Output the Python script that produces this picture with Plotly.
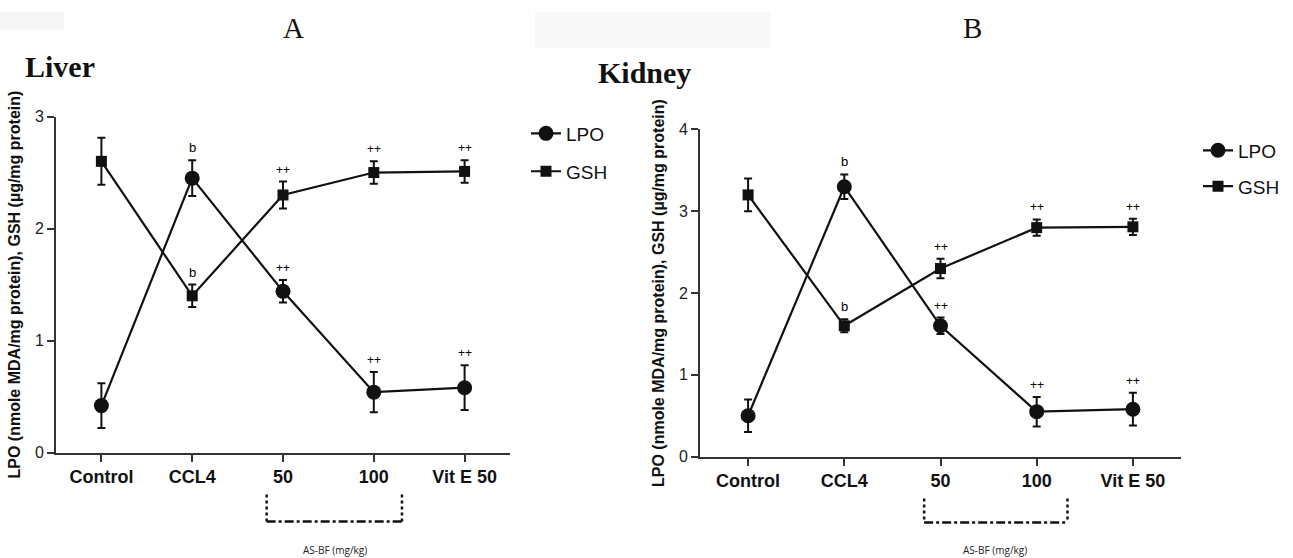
import plotly.graph_objects as go

W, H = 1293, 558

categories = ["Control", "CCL4", "50", "100", "Vit E 50"]

# Panel A: Liver
liver_lpo = [0.42, 2.45, 1.44, 0.54, 0.58]
liver_lpo_err = [0.20, 0.16, 0.10, 0.18, 0.20]
liver_gsh = [2.60, 1.40, 2.30, 2.50, 2.51]
liver_gsh_err = [0.21, 0.10, 0.12, 0.10, 0.10]
liver_lpo_marks = ["", "b", "++", "++", "++"]
liver_gsh_marks = ["", "b", "++", "++", "++"]

# Panel B: Kidney
kidney_lpo = [0.50, 3.30, 1.60, 0.55, 0.58]
kidney_lpo_err = [0.20, 0.15, 0.10, 0.18, 0.20]
kidney_gsh = [3.20, 1.60, 2.30, 2.80, 2.81]
kidney_gsh_err = [0.20, 0.08, 0.12, 0.10, 0.10]
kidney_lpo_marks = ["", "b", "++", "++", "++"]
kidney_gsh_marks = ["", "b", "++", "++", "++"]

y_title = "LPO (nmole MDA/mg protein), GSH (µg/mg protein)"
INK = "#111111"
AX = "#333333"

def px(x):
    return x / W

def py(y):
    # compensate for the observed vertical mapping of the page capture
    t = (y - 6.2) / 0.972
    return 1 - t / H

fig = go.Figure()

def add_series(xa, ya, vals, errs, name, symbol, size, legend, marks):
    xs = list(range(len(categories)))
    fig.add_trace(go.Scatter(
        x=xs, y=vals, mode="lines+markers", name=name,
        xaxis=xa, yaxis=ya, legend=legend,
        line=dict(color=INK, width=2.2),
        marker=dict(symbol=symbol, size=size, color=INK),
        error_y=dict(type="data", array=errs, visible=True,
                     color=INK, thickness=2, width=4),
        cliponaxis=False,
    ))
    for i, m in enumerate(marks):
        if not m:
            continue
        fig.add_annotation(
            x=xs[i], y=vals[i] + errs[i], xref=xa, yref=ya,
            text=m, showarrow=False, yanchor="bottom", yshift=3,
            font=dict(family="Arial, Liberation Sans", size=13 if m == "b" else 12, color="#000000"),
        )

add_series("x", "y", liver_lpo, liver_lpo_err, "LPO", "circle", 15, "legend", liver_lpo_marks)
add_series("x", "y", liver_gsh, liver_gsh_err, "GSH", "square", 11, "legend2", liver_gsh_marks)
add_series("x2", "y2", kidney_lpo, kidney_lpo_err, "LPO", "circle", 15, "legend3", kidney_lpo_marks)
add_series("x2", "y2", kidney_gsh, kidney_gsh_err, "GSH", "square", 11, "legend4", kidney_gsh_marks)

tickfont_x = dict(family="Arial, Liberation Sans", size=18, color=INK, weight="bold")
tickfont_y = dict(family="Arial, Liberation Sans", size=16, color="#222")

def xaxis(domain):
    return dict(
        domain=domain, range=[-0.5, 4.5],
        tickmode="array", tickvals=list(range(len(categories))), ticktext=categories,
        showline=True, linecolor=AX, linewidth=2, ticks="outside", ticklen=7,
        tickwidth=2, tickcolor=AX, showgrid=False, zeroline=False,
        tickfont=tickfont_x, fixedrange=True,
    )

def yaxis(domain, rng, dtick, anchor):
    return dict(
        domain=domain, range=rng, dtick=dtick, anchor=anchor,
        showline=True, linecolor=AX, linewidth=2, ticks="outside", ticklen=7,
        tickwidth=2, tickcolor=AX, showgrid=False, zeroline=False,
        tickfont=tickfont_y,
        title=dict(text=y_title, standoff=10,
                   font=dict(family="Arial, Liberation Sans", size=16, color=INK, weight="bold")),
    )

def legend_at(x, y):
    return dict(x=px(x), y=py(y), xanchor="left", yanchor="middle",
                font=dict(family="Arial, Liberation Sans", size=19, color=INK),
                bgcolor="rgba(0,0,0,0)", itemwidth=30)

fig.update_layout(
    width=W, height=H, margin=dict(l=0, r=0, t=0, b=0),
    paper_bgcolor="white", plot_bgcolor="white",
    xaxis=dict(**xaxis([px(56), px(510)]), anchor="y"),
    yaxis=yaxis([py(452), py(115)], [0, 3], 1, "x"),
    xaxis2=dict(**xaxis([px(700), px(1181)]), anchor="y2"),
    yaxis2=yaxis([py(456), py(128)], [0, 4], 1, "x2"),
    legend=legend_at(526, 132),
    legend2=legend_at(526, 170),
    legend3=legend_at(1198, 149),
    legend4=legend_at(1198, 185),
    showlegend=True,
)

# faint scan boxes at top
fig.add_shape(type="rect", xref="paper", yref="paper", x0=0, x1=px(64), y0=py(28), y1=py(10),
              line=dict(width=0), fillcolor="#f6f6f6", layer="below")
fig.add_shape(type="rect", xref="paper", yref="paper", x0=px(535), x1=px(770), y0=py(46), y1=py(10),
              line=dict(width=0), fillcolor="#f8f8f8", layer="below")

# dose brackets
def bracket(xa, x0, x1, ytop, ybot):
    fig.add_shape(type="line", xref=xa, yref="paper", x0=x0, x1=x0, y0=py(ytop), y1=py(ybot),
                  line=dict(color=INK, width=2.5, dash="dot"))
    fig.add_shape(type="line", xref=xa, yref="paper", x0=x1, x1=x1, y0=py(ytop), y1=py(ybot),
                  line=dict(color=INK, width=2.5, dash="dot"))
    fig.add_shape(type="line", xref=xa, yref="paper", x0=x0, x1=x1, y0=py(ybot), y1=py(ybot),
                  line=dict(color=INK, width=2.5, dash="dashdot"))

bracket("x", 1.82, 3.31, 494, 521)
bracket("x2", 1.83, 3.32, 498, 522)

for xa, xc in (("x", 2.57), ("x2", 2.57)):
    fig.add_annotation(x=xc, xref=xa, y=py(550), yref="paper", yanchor="middle", xanchor="center",
                       text="AS-BF (mg/kg)", showarrow=False,
                       font=dict(family="Open Sans, Liberation Sans", size=10, color="#222"))

# panel letters and organ titles
serif = "Times New Roman, Liberation Serif, serif"
def title_text(x, y, text, size, xanchor="center"):
    fig.add_annotation(x=px(x), y=py(y), xref="paper", yref="paper", text=text, showarrow=False,
                       xanchor=xanchor, yanchor="middle", font=dict(family=serif, size=size, color=INK))

title_text(293, 26, "A", 29)
title_text(972, 26, "B", 29)
title_text(23, 65, "<b>Liver</b>", 30, "left")
title_text(693, 71, "<b>Kidney</b>", 30, "right")

fig.write_html("out.html")
